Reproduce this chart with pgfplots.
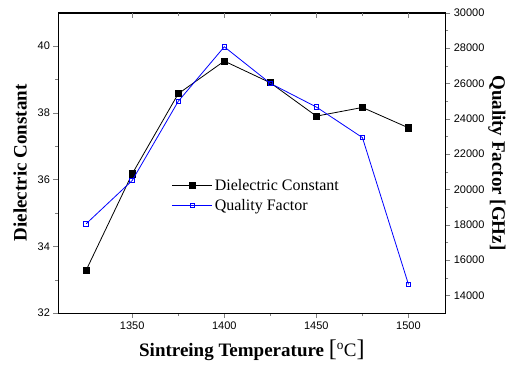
\documentclass[border=0pt]{standalone}
\usepackage{pgfplots}
\pgfplotsset{compat=1.18}
\usepackage{fontspec}
\setmainfont{Liberation Serif}
\newfontfamily\arial{Liberation Sans}
\begin{document}
\begin{tikzpicture}
\pgfplotsset{
  common/.style={
    scale only axis, width=386.8bp, height=300.3bp,
    xmin=1310, xmax=1520,
    xtick={1350,1400,1450,1500},
    minor x tick num=1,
    major tick length=5bp, minor tick length=3bp,
    tick label style={font=\arial\fontsize{11bp}{13bp}\selectfont},
    /pgf/number format/assume math mode=true,
    /pgf/number format/1000 sep={},
    label style={font=\bfseries\fontsize{19bp}{22bp}\selectfont},
    every axis plot/.append style={line width=0.8bp},
  }
}
% left axis
\begin{axis}[common,
  ymin=32, ymax=41, ytick={32,34,36,38,40}, minor y tick num=1,
  tick align=outside, xtick pos=bottom, ytick pos=left,
  xlabel={Sintreing Temperature {\mdseries\fontsize{24bp}{24bp}\selectfont[}{\mdseries\textsuperscript{o}C}{\mdseries\fontsize{24bp}{24bp}\selectfont]}},
  ylabel={Dielectric Constant},
  xlabel style={yshift=-4bp},
  ylabel style={yshift=4bp},
]
\addplot[black, mark=square*, mark size=3.1bp] coordinates {
(1325,33.28) (1350,36.17) (1375,38.57) (1400,39.55) (1425,38.90) (1450,37.90) (1475,38.16) (1500,37.55)};
\end{axis}
% top ticks inside
\begin{axis}[common,
  ymin=32, ymax=41, ytick=\empty,
  tick align=inside, xtick pos=top, xticklabels={},
]
\end{axis}
% right axis
\begin{axis}[common,
  ymin=13000, ymax=30000,
  ytick={14000,16000,18000,20000,22000,24000,26000,28000,30000},
  minor y tick num=1,
  tick align=outside, axis y line*=right, axis x line=none,
  scaled y ticks=false,
  yticklabel style={/pgf/number format/fixed},
  ylabel={Quality Factor [GHz]},
  ylabel style={rotate=180, yshift=-3bp},
  legend style={draw=none, fill=none, at={(0.293,0.391)}, anchor=west,
    font=\fontsize{16bp}{18bp}\selectfont, row sep=3bp,
    inner sep=0pt},
  legend cell align=left,
  legend image code/.code={\draw[mark repeat=2,mark phase=2,#1] plot coordinates {(0bp,0bp) (20bp,0bp) (40bp,0bp)};},
]
\addlegendimage{black, mark=square*, mark size=3.1bp, line width=0.8bp}
\addlegendentry{Dielectric Constant}
\addplot[blue, mark=square, mark size=2.3bp, mark options={line width=0.8bp}] coordinates {
(1325,18050) (1350,20500) (1375,24980) (1400,28070) (1425,26000) (1450,24660) (1475,22930) (1500,14620)};
\addlegendentry{Quality Factor}
\end{axis}
\pgfresetboundingbox
\path (-58.5bp,-57bp) rectangle (453.5bp,313bp);
\end{tikzpicture}
\end{document}
